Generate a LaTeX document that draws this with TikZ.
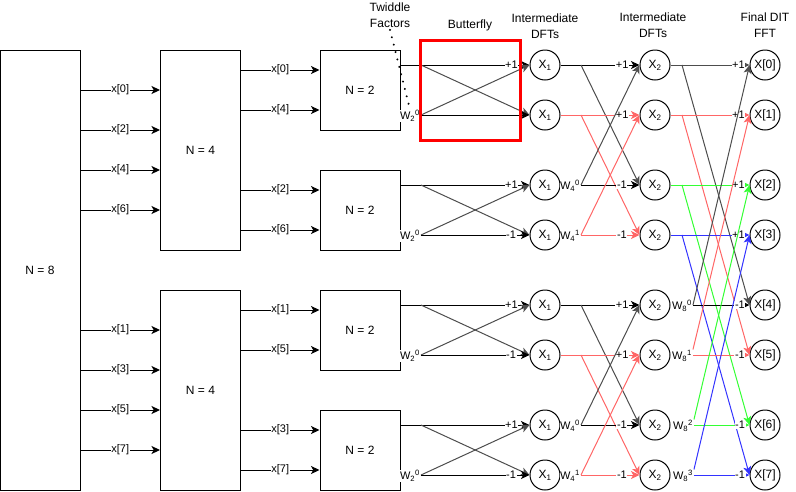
\documentclass[tikz,border=0pt]{standalone}
\usepackage{fontspec}
\setmainfont{Liberation Sans}
\usetikzlibrary{arrows.meta}
\definecolor{lred}{RGB}{255,102,102}
\definecolor{lgreen}{RGB}{51,255,51}
\definecolor{lblue}{RGB}{51,51,255}
\definecolor{dgray}{RGB}{77,77,77}
\newcommand\myfs[1]{\fontsize{#1}{16}\selectfont}
\begin{document}
\begin{tikzpicture}[x=1pt,y=-1pt,line width=1pt,
  box/.style={draw,inner sep=0pt,font=\myfs{12}},
  circ/.style={draw,circle,minimum size=30pt,inner sep=0pt,font=\myfs{12}},
  arr/.style={-{Stealth[length=8.5pt,width=8pt,inset=2.2pt]}},
  lbl/.style={fill=white,inner sep=0.6pt,text=black,font=\myfs{11}},
  tw/.style={fill=white,inner sep=0.5pt,text=black,font=\myfs{11}},
  hdr/.style={align=center,inner sep=0pt,font=\myfs{12}},
  dots/.style={line width=2.2pt,dash pattern=on 0.01pt off 7.6pt,line cap=round}]
\useasboundingbox (0,0) rectangle (796,491);

% ---- boxes
\node[box,minimum width=80pt,minimum height=440pt] (n8) at (40,270) {N = 8};
\node[box,minimum width=80pt,minimum height=200pt] (n4a) at (200.5,150) {N = 4};
\node[box,minimum width=80pt,minimum height=200pt] (n4b) at (200.5,390) {N = 4};
\node[box,minimum width=80pt,minimum height=80pt] (b1) at (360,90) {N = 2};
\node[box,minimum width=80pt,minimum height=80pt] (b2) at (360,210) {N = 2};
\node[box,minimum width=80pt,minimum height=80pt] (b3) at (360,330) {N = 2};
\node[box,minimum width=80pt,minimum height=80pt] (b4) at (360,450) {N = 2};

% ---- circles
\foreach \n/\y in {a/65,b/115,c/185,d/235,e/305,f/355,g/425,h/475}{
  \node[circ] (x1\n) at (545,\y) {X\textsubscript{1}};
  \node[circ] (x2\n) at (655,\y) {X\textsubscript{2}};
}
\foreach \k/\y in {0/65,1/115,2/185,3/235,4/305,5/355,6/425,7/475}{
  \node[circ] (o\k) at (765,\y) {X[\k]};
}

% ---- N=8 -> N=4
\foreach \y/\t in {90/0,130/2,170/4,210/6}{
  \draw[arr] (n8.east |- 0,\y) -- node[lbl]{x[\t]} (n4a.west |- 0,\y);}
\foreach \y/\t in {330/1,370/3,410/5,450/7}{
  \draw[arr] (n8.east |- 0,\y) -- node[lbl]{x[\t]} (n4b.west |- 0,\y);}

% ---- N=4 -> N=2
\draw[arr] (n4a.east |- 0,70) -- node[lbl]{x[0]} (b1.west |- 0,70);
\draw[arr] (n4a.east |- 0,110) -- node[lbl]{x[4]} (b1.west |- 0,110);
\draw[arr] (n4a.east |- 0,190) -- node[lbl]{x[2]} (b2.west |- 0,190);
\draw[arr] (n4a.east |- 0,230) -- node[lbl]{x[6]} (b2.west |- 0,230);
\draw[arr] (n4b.east |- 0,310) -- node[lbl]{x[1]} (b3.west |- 0,310);
\draw[arr] (n4b.east |- 0,350) -- node[lbl]{x[5]} (b3.west |- 0,350);
\draw[arr] (n4b.east |- 0,430) -- node[lbl]{x[3]} (b4.west |- 0,430);
\draw[arr] (n4b.east |- 0,470) -- node[lbl]{x[7]} (b4.west |- 0,470);

% ---- twiddle labels
\node[tw] (w2a) at (410,116) {W\textsubscript{2}\textsuperscript{0}};
\node[tw] (w2b) at (410,236) {W\textsubscript{2}\textsuperscript{0}};
\node[tw] (w2c) at (410,356) {W\textsubscript{2}\textsuperscript{0}};
\node[tw] (w2d) at (410,476) {W\textsubscript{2}\textsuperscript{0}};
\node[tw] (w4c) at (570,186) {W\textsubscript{4}\textsuperscript{0}};
\node[tw] (w4d) at (570,236) {W\textsubscript{4}\textsuperscript{1}};
\node[tw] (w4g) at (570,426) {W\textsubscript{4}\textsuperscript{0}};
\node[tw] (w4h) at (570,476) {W\textsubscript{4}\textsuperscript{1}};
\node[tw] (w8e) at (682,306) {W\textsubscript{8}\textsuperscript{0}};
\node[tw] (w8f) at (682,356) {W\textsubscript{8}\textsuperscript{1}};
\node[tw] (w8g) at (683,426) {W\textsubscript{8}\textsuperscript{2}};
\node[tw] (w8h) at (683,476) {W\textsubscript{8}\textsuperscript{3}};

% ---- stage 1 butterflies
\draw[arr] (b1.east |- x1a) -- node[lbl,pos=.86]{+1} (x1a.west);
\draw[arr,dgray] (w2a.east |- x1a) -- (x1b.west);
\draw[arr,dgray] (w2a.east |- x1b) -- (x1a.west);
\draw[arr] (w2a.east |- x1b) -- (x1b.west);
\foreach \b/\w/\t/\u in {b2/w2b/c/d,b3/w2c/e/f,b4/w2d/g/h}{
  \draw[arr] (\b.east |- x1\t) -- node[lbl,pos=.86]{+1} (x1\t.west);
  \draw[arr,dgray] (\w.east |- x1\t) -- (x1\u.west);
  \draw[arr,dgray] (\w.east |- x1\u) -- (x1\t.west);
  \draw[arr] (\w.east |- x1\u) -- node[lbl,pos=.83]{-1} (x1\u.west);
}

% ---- stage 2
\foreach \a/\b/\c/\d in {a/b/c/d,e/f/g/h}{
  \draw[arr] (x1\a.east) -- node[lbl,pos=.78]{+1} (x2\a.west);
  \draw[arr,dgray] (w4\c.east |- x1\a) -- (x2\c.west);
  \draw[arr,lred] (x1\b.east) -- node[lbl,pos=.78]{+1} (x2\b.west);
  \draw[arr,lred] (w4\c.east |- x1\b) -- (x2\d.west);
  \draw[arr] (w4\c.east |- x1\c) -- node[lbl,pos=.7]{-1} (x2\c.west);
  \draw[arr,dgray] (w4\c.east |- x1\c) -- (x2\a.west);
  \draw[arr,lred] (w4\d.east |- x1\d) -- node[lbl,pos=.7]{-1} (x2\d.west);
  \draw[arr,lred] (w4\d.east |- x1\d) -- (x2\b.west);
}

% ---- stage 3
\draw[arr,dgray] (x2a.east) -- node[lbl,pos=.86]{+1} (o0.west);
\draw[arr,dgray] (w8e |- x2a) -- (o4.west);
\draw[arr,lred] (x2b.east) -- node[lbl,pos=.86]{+1} (o1.west);
\draw[arr,lred] (w8e |- x2b) -- (o5.west);
\draw[arr,lgreen] (x2c.east) -- node[lbl,pos=.86]{+1} (o2.west);
\draw[arr,lgreen] (w8e |- x2c) -- (o6.west);
\draw[arr,lblue] (x2d.east) -- node[lbl,pos=.86]{+1} (o3.west);
\draw[arr,lblue] (w8e |- x2d) -- (o7.west);
\draw[arr] (w8e.east |- x2e) -- node[lbl,pos=.83]{-1} (o4.west);
\draw[arr,dgray] (w8e.east |- x2e) -- (o0.west);
\draw[arr,lred] (w8f.east |- x2f) -- node[lbl,pos=.83]{-1} (o5.west);
\draw[arr,lred] (w8f.north east) -- (o1.west);
\draw[arr,lgreen] (w8g.east |- x2g) -- node[lbl,pos=.83]{-1} (o6.west);
\draw[arr,lgreen] (w8g.north east) -- (o2.west);
\draw[arr,lblue] (w8h.east |- x2h) -- node[lbl,pos=.83]{-1} (o7.west);
\draw[arr,lblue] (w8h.north east) -- (o3.west);

% ---- headers
\node[hdr] (htw) at (390,15) {Twiddle\\Factors};
\node[hdr] (hbf) at (470,25) {Butterfly};
\node[hdr] (hi1) at (545,26) {Intermediate\\DFTs};
\node[hdr] (hi2) at (653,25) {Intermediate\\DFTs};
\node[hdr] (hfin) at (765,25) {Final DIT\\FFT};
\draw[dots] (htw.south) ++(0,2) -- (w2a.north);

% ---- butterfly highlight
\node[draw=red,line width=3pt,minimum width=100pt,minimum height=100pt,inner sep=0pt] (bfly) at (470,90) {};
\end{tikzpicture}
\end{document}
